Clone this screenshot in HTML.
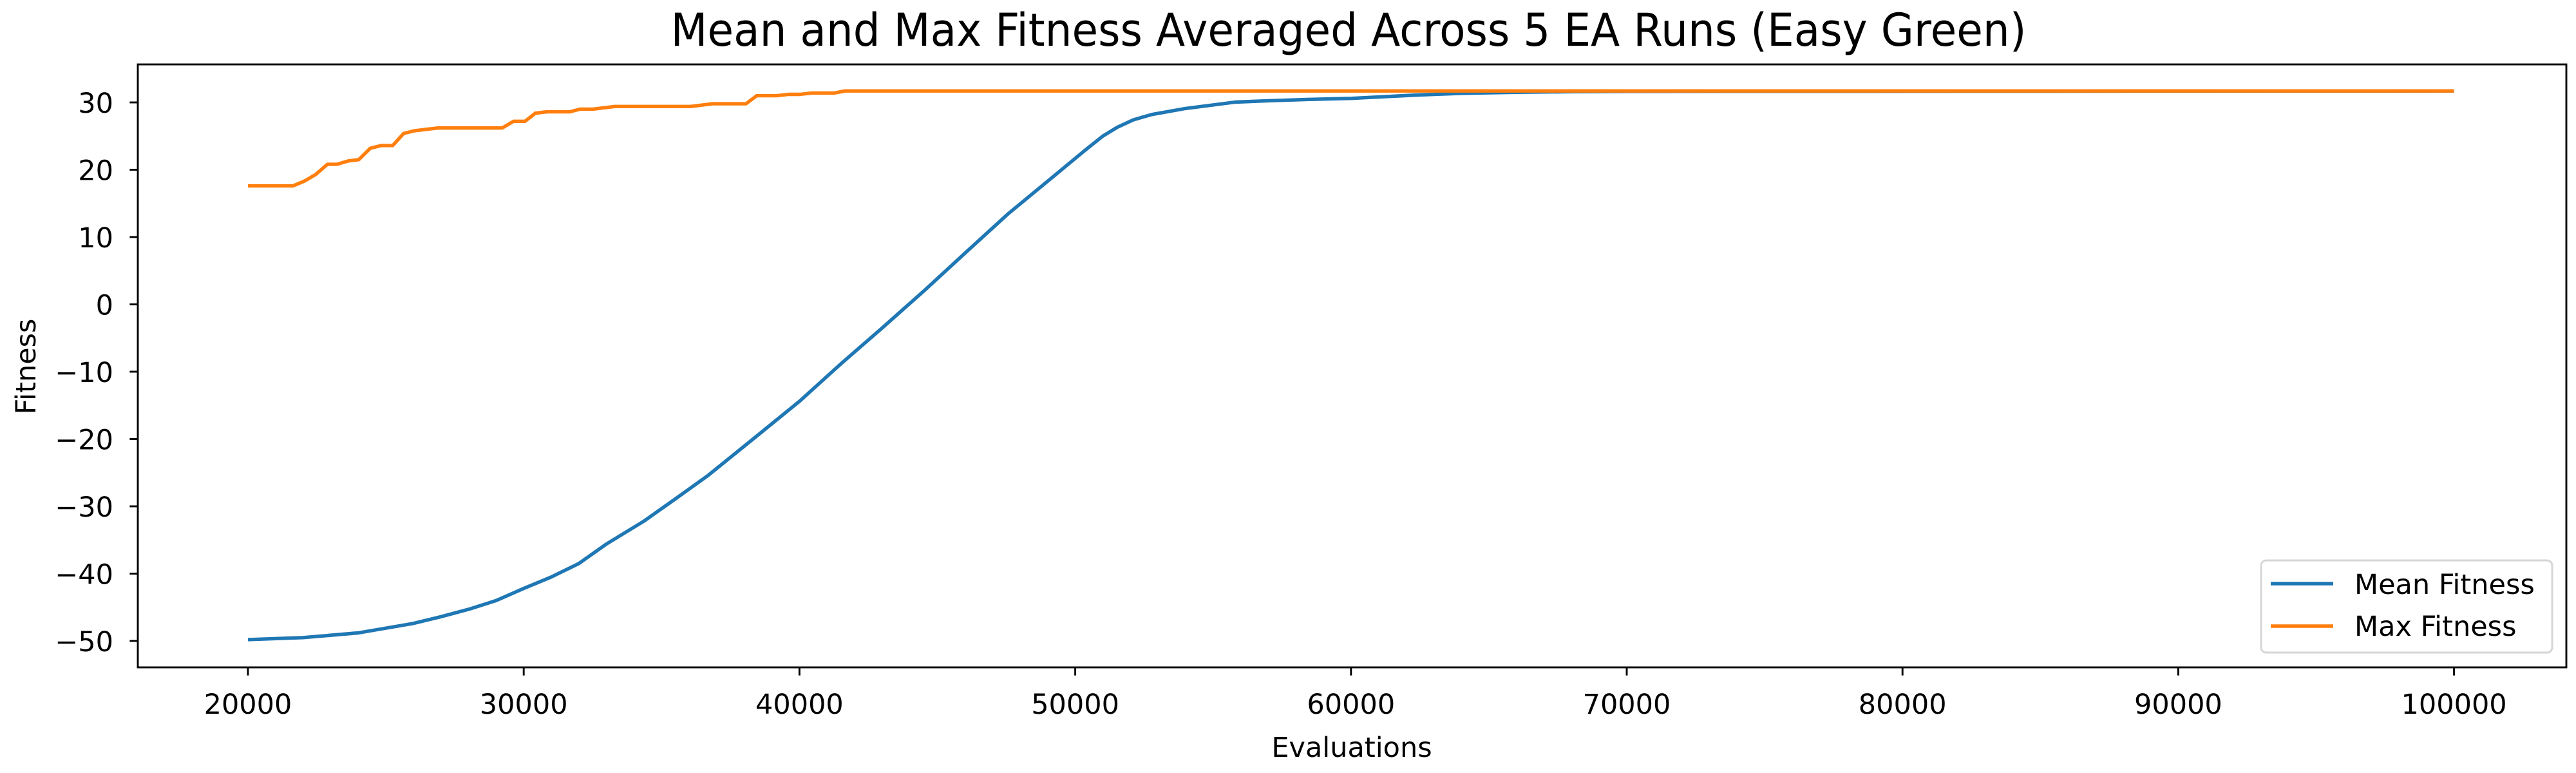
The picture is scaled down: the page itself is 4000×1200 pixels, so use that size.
<!DOCTYPE html>
<html><head><meta charset="utf-8"><style>
html,body{margin:0;padding:0;background:#fff;}
svg{display:block;font-family:"DejaVu Sans","Liberation Sans",sans-serif;}
</style></head><body>
<svg id="chart" width="4000" height="1200" viewBox="0 0 4000 1200" xmlns="http://www.w3.org/2000/svg">
<rect x="0" y="0" width="4000" height="1200" fill="#fff"/>
<text x="2094" y="71" font-size="70" text-anchor="middle" textLength="2105" lengthAdjust="spacingAndGlyphs" fill="#000">Mean and Max Fitness Averaged Across 5 EA Runs (Easy Green)</text>
<g id="plot"></g>
<text x="2099" y="1175" font-size="43" text-anchor="middle" fill="#000">Evaluations</text>
<text x="0" y="0" font-size="43" text-anchor="middle" fill="#000" transform="translate(55,569) rotate(-90)">Fitness</text>
<g>
<rect x="3511" y="870" width="452" height="143" rx="8" fill="#fff" fill-opacity="0.8" stroke="#d6d6d6" stroke-width="3"/>
<line x1="3526" y1="906" x2="3623" y2="906" stroke="#1f77b4" stroke-width="5.4"/>
<text x="3656" y="922" font-size="43" fill="#000">Mean Fitness</text>
<line x1="3526" y1="972" x2="3623" y2="972" stroke="#ff7f0e" stroke-width="5.4"/>
<text x="3656" y="987" font-size="43" fill="#000">Max Fitness</text>
</g>
</svg>
<script>
const xTicks = [20000,30000,40000,50000,60000,70000,80000,90000,100000];
const yTicks = [-50,-40,-30,-20,-10,0,10,20,30];
const meanX = [20000,22000,24000,26000,27000,28000,29000,30000,31000,32000,33000,34360,35500,36690,38290,40000,41510,43000,44540,46000,47580,49000,50360,51000,51520,52100,52770,54000,55800,57000,58500,60030,62390,64000,66000,68000,70000,100000];
const meanY = [-49.8,-49.5,-48.8,-47.4,-46.4,-45.3,-44.0,-42.2,-40.5,-38.5,-35.6,-32.2,-28.9,-25.4,-20.1,-14.4,-8.8,-3.5,2.1,7.6,13.5,18.3,22.9,25.0,26.3,27.4,28.2,29.1,30.05,30.25,30.45,30.6,31.1,31.35,31.5,31.6,31.65,31.7];
const maxX = [20000,21630,22040,22460,22880,23230,23630,24020,24440,24840,25250,25650,26050,26880,29220,29630,30050,30420,30840,31670,32050,32510,33300,36050,36850,38060,38450,39180,39600,40020,40440,41270,41650,100000];
const maxY = [17.6,17.6,18.3,19.3,20.8,20.8,21.3,21.5,23.2,23.6,23.6,25.4,25.8,26.2,26.2,27.2,27.2,28.4,28.6,28.6,29.0,29.0,29.4,29.4,29.8,29.8,31.0,31.0,31.2,31.2,31.4,31.4,31.7,31.7];

const L=214,R=3985,T=100,B=1036;
function xs(v){return 385+(v-20000)*0.04282;}
function ys(v){return 159+(30-v)*10.45;}
const NS="http://www.w3.org/2000/svg";
const g=document.getElementById('plot');
function mk(tag,attrs){const e=document.createElementNS(NS,tag);for(const k in attrs)e.setAttribute(k,attrs[k]);g.appendChild(e);return e;}
function pts(xa,ya){return xa.map((x,i)=>xs(x).toFixed(1)+','+ys(ya[i]).toFixed(1)).join(' ');}
const m=mk('polyline',{points:pts(meanX,meanY),fill:'none',stroke:'#1f77b4','stroke-width':5.4,'stroke-linejoin':'round'});


const mx=mk('polyline',{points:pts(maxX,maxY),fill:'none',stroke:'#ff7f0e','stroke-width':5.4,'stroke-linejoin':'round'});


const fr=mk('rect',{x:L,y:T,width:R-L,height:B-T,fill:'none',stroke:'#000','stroke-width':2.9});


xTicks.forEach(v=>{
  const x=xs(v);
  const t=mk('line',{x1:x,y1:B,x2:x,y2:B+12.6,stroke:'#000','stroke-width':2.9});
  
  
  const l=mk('text',{x:x,y:B+72,'font-size':43,'text-anchor':'middle',fill:'#000'});
  l.textContent=String(v);
  
  
});
yTicks.forEach(v=>{
  const y=ys(v);
  const t=mk('line',{x1:L,y1:y,x2:L-12.6,y2:y,stroke:'#000','stroke-width':2.9});
  
  
  const l=mk('text',{x:L-38,y:y+16,'font-size':43,'text-anchor':'end',fill:'#000'});
  l.textContent=(v<0?'\u2212'+(-v):String(v));
  
  
});
</script>
</body></html>
